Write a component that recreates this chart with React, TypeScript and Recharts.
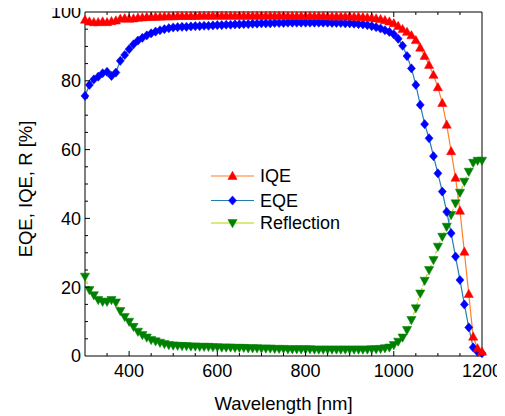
import React from 'react';
import { LineChart, Line, XAxis, YAxis, Legend, Label } from 'recharts';

const FONT = '"Liberation Sans", Arial, Helvetica, sans-serif';

const WAVELENGTH = [
  300, 310, 320, 330, 340, 350, 360, 370, 380, 390,
  400, 410, 420, 430, 440, 450, 460, 470, 480, 490,
  500, 510, 520, 530, 540, 550, 560, 570, 580, 590,
  600, 610, 620, 630, 640, 650, 660, 670, 680, 690,
  700, 710, 720, 730, 740, 750, 760, 770, 780, 790,
  800, 810, 820, 830, 840, 850, 860, 870, 880, 890,
  900, 910, 920, 930, 940, 950, 960, 970, 980, 990,
  1000, 1010, 1020, 1030, 1040, 1050, 1060, 1070, 1080, 1090,
  1100, 1110, 1120, 1130, 1140, 1150, 1160, 1170, 1180, 1190,
  1200,
];

const IQE = [
  97.7, 97.2, 97.0, 97.0, 97.2, 97.0, 97.3, 97.5, 98.0, 98.2,
  98.0, 98.1, 98.3, 98.4, 98.5, 98.5, 98.6, 98.6, 98.7, 98.7,
  98.7, 98.8, 98.8, 98.8, 98.8, 98.8, 98.9, 98.9, 98.9, 98.9,
  98.9, 98.9, 98.9, 98.9, 98.9, 98.9, 98.9, 98.9, 98.9, 98.9,
  98.9, 98.9, 98.9, 98.9, 98.9, 98.9, 98.8, 98.8, 98.8, 98.8,
  98.8, 98.8, 98.8, 98.8, 98.8, 98.7, 98.7, 98.7, 98.7, 98.7,
  98.7, 98.6, 98.6, 98.5, 98.4, 98.3, 98.1, 97.9, 97.6, 97.2,
  96.7, 95.9, 95.0, 94.2, 93.2, 91.8, 89.6, 87.2, 84.6, 81.7,
  78.1, 73.5, 67.2, 59.5, 51.8, 42.2, 30.3, 18.0, 5.6, 2.2,
  1.2,
];

const EQE = [
  75.6, 78.8, 80.4, 81.2, 82.2, 82.6, 81.4, 82.4, 85.8, 87.5,
  89.2, 90.6, 91.7, 92.5, 93.2, 93.8, 94.3, 94.7, 95.0, 95.3,
  95.5, 95.6, 95.7, 95.7, 95.8, 95.9, 95.9, 96.0, 96.0, 96.1,
  96.2, 96.2, 96.3, 96.3, 96.4, 96.4, 96.5, 96.5, 96.6, 96.6,
  96.7, 96.7, 96.7, 96.8, 96.8, 96.8, 96.9, 96.9, 96.9, 96.9,
  96.9, 96.9, 96.9, 96.9, 96.9, 96.9, 96.8, 96.8, 96.8, 96.7,
  96.7, 96.6, 96.5, 96.4, 96.2, 95.9, 95.6, 95.2, 94.7, 94.2,
  93.5, 92.2, 90.2, 87.2, 83.6, 78.8, 73.0, 67.4, 63.3, 58.1,
  53.1, 47.8, 41.9, 35.7, 28.9, 22.1, 15.0, 8.3, 2.5, 1.2,
  0.8,
];

const REFLECTION = [
  23.1, 19.2, 17.7, 16.3, 15.8, 15.8, 16.3, 15.6, 13.1, 11.4,
  10.0, 8.5, 7.1, 6.1, 5.4, 4.7, 4.3, 3.9, 3.5, 3.2,
  3.1, 3.0, 2.9, 2.9, 2.8, 2.8, 2.7, 2.7, 2.7, 2.6,
  2.6, 2.5, 2.5, 2.5, 2.4, 2.4, 2.4, 2.3, 2.3, 2.3,
  2.2, 2.2, 2.2, 2.1, 2.1, 2.1, 2.0, 2.0, 2.0, 2.0,
  2.0, 2.0, 1.9, 1.9, 1.9, 1.9, 1.9, 1.9, 1.9, 1.9,
  1.9, 1.9, 1.9, 1.9, 1.9, 2.0, 2.0, 2.1, 2.3, 2.5,
  3.2, 4.2, 5.4, 7.6, 10.5, 13.9, 18.2, 21.9, 25.0, 27.9,
  31.8, 34.7, 37.6, 41.0, 44.4, 47.5, 50.7, 53.6, 56.2, 56.8,
  56.8,
];

const X_TICKS = [300, 350, 400, 450, 500, 550, 600, 650, 700, 750, 800, 850, 900, 950, 1000, 1050, 1100, 1150, 1200];
const Y_TICKS = [0, 5, 10, 15, 20, 25, 30, 35, 40, 45, 50, 55, 60, 65, 70, 75, 80, 85, 90, 95, 100];

const SERIES = [
  { key: 'refl', name: 'Reflection', line: '#BCD200', marker: '#008000', shape: 'down', dash: '3 2' },
  { key: 'eqe', name: 'EQE', line: '#1F7FB0', marker: '#0000FF', shape: 'diamond', dash: undefined },
  { key: 'iqe', name: 'IQE', line: '#FF7F27', marker: '#FF0000', shape: 'up', dash: undefined },
];
const LEGEND_ORDER = ['iqe', 'eqe', 'refl'];

const data = WAVELENGTH.map((nm, i) => ({ nm, iqe: IQE[i], eqe: EQE[i], refl: REFLECTION[i] }));

function markerPoints(shape: string, x: number, y: number) {
  if (shape === 'up') return `${x},${y - 4.8} ${x + 4.6},${y + 3.4} ${x - 4.6},${y + 3.4}`;
  if (shape === 'down') return `${x - 4.6},${y - 3.4} ${x + 4.6},${y - 3.4} ${x},${y + 4.8}`;
  return `${x},${y - 4.6} ${x + 4},${y} ${x},${y + 4.6} ${x - 4},${y}`;
}

const X_MIN = 300;
const X_MAX = 1200;
const Y_MIN = 0;
const Y_MAX = 100;

function BottomTick(props: any) {
  const { x, y, payload } = props;
  const v = payload.value;
  const major = v % 200 === 0;
  const edge = v === X_MIN || v === X_MAX;
  return (
    <g>
      {!edge && <line x1={x} x2={x} y1={y} y2={y - (major ? 5 : 3)} stroke="#000" strokeWidth={1} />}
      {major && (
        <text x={x} y={y + 21} textAnchor="middle" fontSize={18} fontFamily={FONT} fill="#000">
          {v}
        </text>
      )}
    </g>
  );
}

function TopTick(props: any) {
  const { x, y, payload } = props;
  const v = payload.value;
  const major = v % 200 === 0;
  const edge = v === X_MIN || v === X_MAX;
  if (edge) return <g />;
  return <line x1={x} x2={x} y1={y} y2={y + (major ? 5 : 3)} stroke="#000" strokeWidth={1} />;
}

function LeftTick(props: any) {
  const { x, y, payload } = props;
  const v = payload.value;
  const major = v % 20 === 0;
  const edge = v === Y_MIN || v === Y_MAX;
  return (
    <g>
      {!edge && <line x1={x} x2={x + (major ? 5 : 3)} y1={y} y2={y} stroke="#000" strokeWidth={1} />}
      {major && (
        <text x={x - 4} y={y + 6.3} textAnchor="end" fontSize={18} fontFamily={FONT} fill="#000">
          {v}
        </text>
      )}
    </g>
  );
}

function RightTick(props: any) {
  const { x, y, payload } = props;
  const v = payload.value;
  const major = v % 20 === 0;
  const edge = v === Y_MIN || v === Y_MAX;
  if (edge) return <g />;
  return <line x1={x} x2={x - (major ? 5 : 3)} y1={y} y2={y} stroke="#000" strokeWidth={1} />;
}

function LegendBox() {
  const rows = [18, 42.5, 65];
  return (
    <svg width={170} height={80} style={{ display: 'block' }}>
      {LEGEND_ORDER.map((k, i) => {
        const s = SERIES.find((q) => q.key === k)!;
        const y = rows[i];
        return (
          <g key={k}>
            <line x1={3} x2={46} y1={y} y2={y} stroke={s.line} strokeWidth={1.2} />
            <polygon points={markerPoints(s.shape, 24.5, y)} fill={s.marker} stroke={s.marker} strokeWidth={0.5} />
            <text x={52} y={y + 6.3} fontSize={18} fontFamily={FONT} fill="#000">
              {s.name}
            </text>
          </g>
        );
      })}
    </svg>
  );
}

export default function App() {
  return (
    <div style={{ position: 'relative', top: -8, left: -8, width: 505, height: 416 }}>
      <LineChart
        width={505}
        height={416}
        data={data}
        margin={{ top: 11, right: 22, bottom: 0, left: 25 }}
        style={{ fontFamily: FONT }}
      >
        <XAxis
          xAxisId="b"
          dataKey="nm"
          type="number"
          domain={[X_MIN, X_MAX]}
          ticks={X_TICKS}
          interval={0}
          tickSize={0}
          tickMargin={0}
          tickLine={false}
          tick={<BottomTick />}
          height={60}
          axisLine={{ stroke: '#000', strokeWidth: 1 }}
        >
          <Label
            content={() => (
              <text x={283.5} y={410} textAnchor="middle" fontSize={18.5} fontFamily={FONT} fill="#000">
                Wavelength [nm]
              </text>
            )}
          />
        </XAxis>
        <XAxis
          xAxisId="t"
          orientation="top"
          dataKey="nm"
          type="number"
          domain={[X_MIN, X_MAX]}
          ticks={X_TICKS}
          interval={0}
          tickSize={0}
          tickMargin={0}
          tickLine={false}
          tick={<TopTick />}
          height={1}
          axisLine={{ stroke: '#000', strokeWidth: 1 }}
        />
        <YAxis
          yAxisId="l"
          type="number"
          domain={[Y_MIN, Y_MAX]}
          ticks={Y_TICKS}
          interval={0}
          tickSize={0}
          tickMargin={0}
          tickLine={false}
          tick={<LeftTick />}
          width={60}
          axisLine={{ stroke: '#000', strokeWidth: 1 }}
        >
          <Label
            content={() => (
              <text
                x={32}
                y={189}
                transform="rotate(-90 32 189)"
                textAnchor="middle"
                fontSize={18.5}
                fontFamily={FONT}
                fill="#000"
              >
                EQE, IQE, R [%]
              </text>
            )}
          />
        </YAxis>
        <YAxis
          yAxisId="r"
          orientation="right"
          type="number"
          domain={[Y_MIN, Y_MAX]}
          ticks={Y_TICKS}
          interval={0}
          tickSize={0}
          tickMargin={0}
          tickLine={false}
          tick={<RightTick />}
          width={1}
          axisLine={{ stroke: '#000', strokeWidth: 1 }}
        />
        {SERIES.map((s) => (
          <Line
            key={s.key}
            xAxisId="b"
            yAxisId="l"
            type="linear"
            dataKey={s.key}
            name={s.name}
            stroke={s.line}
            strokeWidth={1.2}
            strokeDasharray={s.dash}
            isAnimationActive={false}
            activeDot={false}
            dot={(p: any) => (
              <polygon
                key={`${s.key}-${p.index}`}
                points={markerPoints(s.shape, p.cx, p.cy)}
                fill={s.marker}
                stroke={s.marker}
                strokeWidth={0.5}
              />
            )}
          />
        ))}
        <Legend
          layout="vertical"
          align="center"
          verticalAlign="middle"
          wrapperStyle={{ left: 208, top: 158, width: 170 }}
          content={() => <LegendBox />}
        />
      </LineChart>
    </div>
  );
}
